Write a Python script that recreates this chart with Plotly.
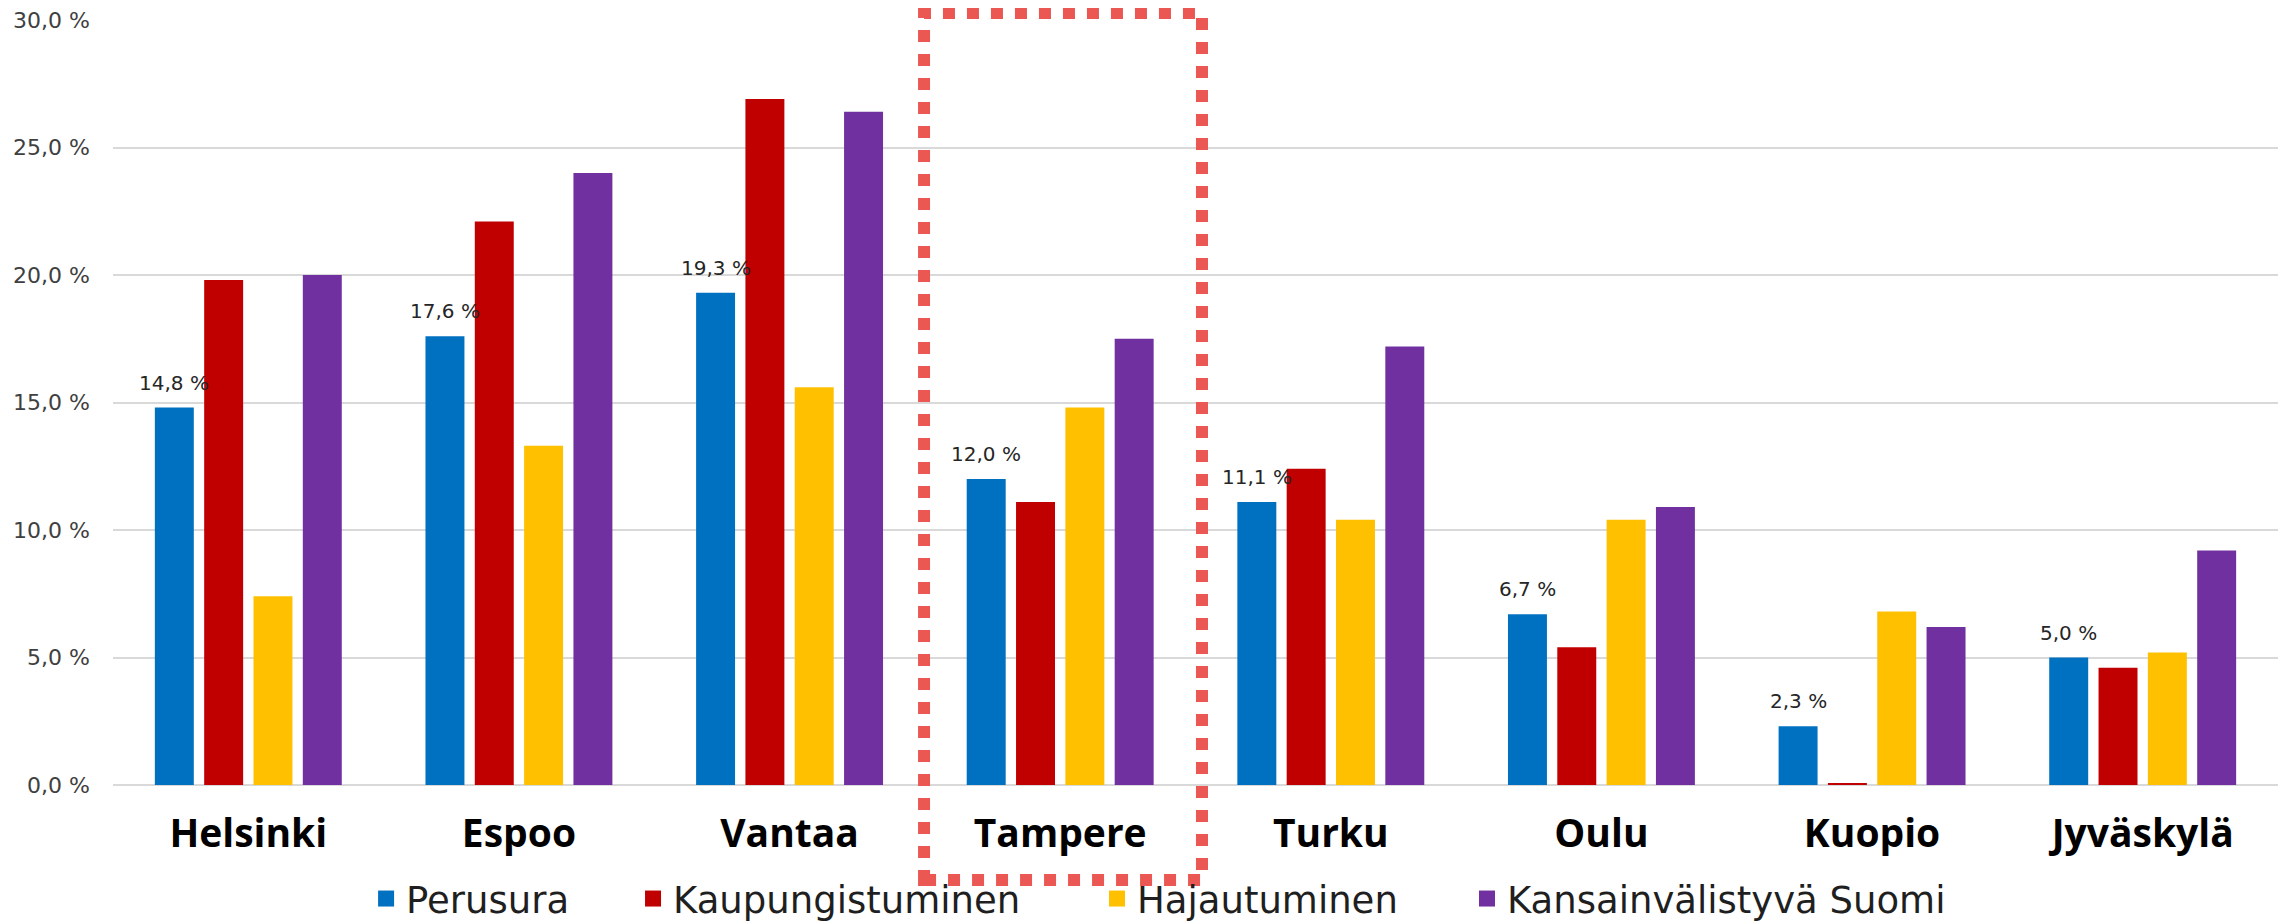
import plotly.graph_objects as go

cities = ["Helsinki", "Espoo", "Vantaa", "Tampere", "Turku", "Oulu", "Kuopio", "Jyväskylä"]
perusura = [14.8, 17.6, 19.3, 12.0, 11.1, 6.7, 2.3, 5.0]
kaupungistuminen = [19.8, 22.1, 26.9, 11.1, 12.4, 5.4, 0.05, 4.6]
hajautuminen = [7.4, 13.3, 15.6, 14.8, 10.4, 10.4, 6.8, 5.2]
kansainvalistyva = [20.0, 24.0, 26.4, 17.5, 17.2, 10.9, 6.2, 9.2]

series_names = ["Perusura", "Kaupungistuminen", "Hajautuminen", "Kansainvälistyvä Suomi"]
series_values = [perusura, kaupungistuminen, hajautuminen, kansainvalistyva]
colors = ["#0070C0", "#C00000", "#FFC000", "#7030A0"]
legend_x = [0.1169, 0.2402, 0.4545, 0.6254]
highlight_city = "Tampere"

FONT = "DejaVu Sans"
BOLD_FONT = "Open Sans"
# page body has an 8px margin, so the figure is sized to end at the window edge
W, H = 2279, 913
ML, MR, MT, MB = 105, 9, 12, 136
BARGAP, GROUPGAP = 0.271, 0.21

fig = go.Figure()
legend_layouts = {}
for i, (name, vals, col) in enumerate(zip(series_names, series_values, colors)):
    fig.add_trace(go.Bar(
        x=cities, y=vals, name=name, marker=dict(color=col, line=dict(width=0)),
        showlegend=False, hoverinfo="x+y+name",
    ))
    lg = "legend" if i == 0 else f"legend{i + 1}"
    fig.add_trace(go.Scatter(
        x=[None], y=[None], mode="markers", name=name, legend=lg,
        marker=dict(symbol="square", size=20, color=col), showlegend=True,
    ))
    legend_layouts[lg] = dict(
        orientation="h", x=legend_x[i], xanchor="left", y=-0.149, yanchor="middle",
        font=dict(family=FONT, size=37, color="#1f1f1f"),
        bgcolor="rgba(0,0,0,0)", borderwidth=0,
        itemclick=False, itemdoubleclick=False,
    )

# data labels for Perusura (placed above the blue bars)
plot_w = W - ML - MR
cat_w = plot_w / len(cities)
slot = cat_w * (1 - BARGAP) / len(series_names)
blue_shift = -1.5 * slot
for c, v in zip(cities, perusura):
    fig.add_annotation(
        x=c, y=v, xref="x", yref="y", text=f"{v:.1f} %".replace(".", ","),
        showarrow=False, yanchor="bottom", xanchor="center",
        xshift=blue_shift, yshift=11,
        font=dict(family=FONT, size=20, color="#262626"),
    )

# dotted highlight rectangle around Tampere
idx = cities.index(highlight_city)
fig.add_shape(
    type="rect", xref="x", yref="paper",
    x0=idx - 0.503, x1=idx + 0.524, y0=-0.1242, y1=1.0092,
    line=dict(color="#EB5752", width=12, dash="12px,12px"),
    fillcolor="rgba(0,0,0,0)", layer="above",
)

fig.update_layout(
    width=W, height=H,
    margin=dict(l=ML, r=MR, t=MT, b=MB, autoexpand=False),
    paper_bgcolor="white", plot_bgcolor="white",
    barmode="group", bargap=BARGAP, bargroupgap=GROUPGAP,
    separators=", ",
    font=dict(family=FONT, color="#404040"),
    xaxis=dict(
        type="category", showgrid=False, showline=False, ticks="",
        tickfont=dict(family=BOLD_FONT, size=39, color="#000000", weight="bold"),
        ticklabelstandoff=22, automargin=False, ticklabeloverflow="allow",
    ),
    yaxis=dict(
        range=[0, 30], dtick=5, tickformat=".1f", ticksuffix=" %",
        showgrid=True, gridcolor="#D9D9D9", gridwidth=2,
        zeroline=True, zerolinecolor="#D9D9D9", zerolinewidth=2,
        showline=False, ticks="",
        tickfont=dict(family=FONT, size=22, color="#404040"),
        ticklabelstandoff=22, automargin=False, ticklabeloverflow="allow",
    ),
    **legend_layouts,
)

fig.write_html("out.html")
